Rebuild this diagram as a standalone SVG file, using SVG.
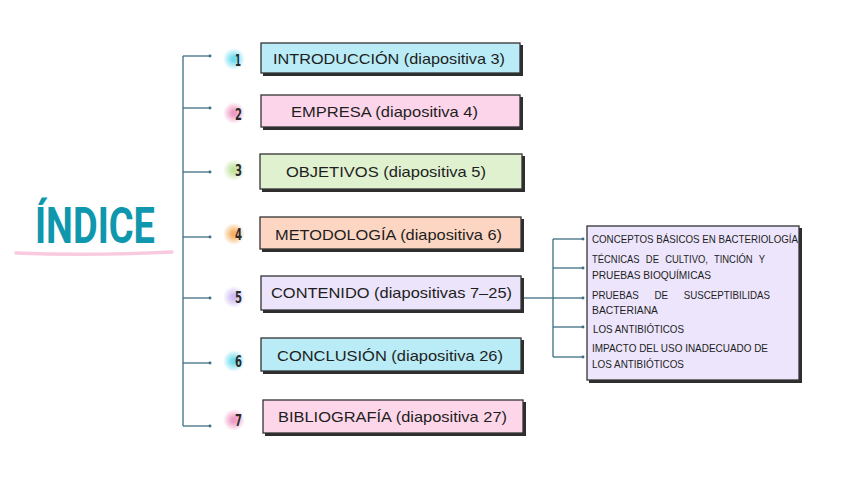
<svg xmlns="http://www.w3.org/2000/svg" width="848" height="477" viewBox="0 0 848 477">
<defs>
<radialGradient id="gc"><stop offset="0.2" stop-color="#6fdcef"/><stop offset="1" stop-color="#6fdcef" stop-opacity="0"/></radialGradient>
<radialGradient id="gp"><stop offset="0.2" stop-color="#ee9cc4"/><stop offset="1" stop-color="#ee9cc4" stop-opacity="0"/></radialGradient>
<radialGradient id="gg"><stop offset="0.2" stop-color="#c2e3a0"/><stop offset="1" stop-color="#c2e3a0" stop-opacity="0"/></radialGradient>
<radialGradient id="go"><stop offset="0.2" stop-color="#f6b063"/><stop offset="1" stop-color="#f6b063" stop-opacity="0"/></radialGradient>
<radialGradient id="gl"><stop offset="0.2" stop-color="#cdbcf4"/><stop offset="1" stop-color="#cdbcf4" stop-opacity="0"/></radialGradient>
<marker id="dot" viewBox="0 0 4 4" refX="2" refY="2" markerWidth="3" markerHeight="3"><circle cx="2" cy="2" r="1.5" fill="#3d6e84"/></marker>
</defs>
<style>
.ln{stroke:#3d6e84;stroke-width:1.3;fill:none}
.sh{fill:#2e2e2e}
.bx{stroke:#333;stroke-width:1.3}
.t{font-family:"Liberation Sans",Arial,sans-serif;font-size:15px;fill:#1e1e1e}
.n{font-family:"DejaVu Sans Condensed","DejaVu Sans",sans-serif;font-weight:bold;font-size:16px;fill:#2a2a2a}
.s{font-family:"Liberation Sans",Arial,sans-serif;font-size:10.5px;fill:#1e1e1e}
</style>
<rect width="848" height="477" fill="#ffffff"/>

<g id="title">
<path d="M16 253 Q90 256 172 252" stroke="#f9c9e0" stroke-width="3.5" fill="none" stroke-linecap="round"/>
<text x="35" y="243" font-family="Roboto,'DejaVu Sans',sans-serif" font-weight="bold" font-size="50" fill="#0e97ad" textLength="120" lengthAdjust="spacingAndGlyphs">ÍNDICE</text>
</g>

<g id="connectors">
<path class="ln" d="M183 56 V426"/>
<path class="ln" marker-end="url(#dot)" d="M183 56 H210"/>
<path class="ln" marker-end="url(#dot)" d="M183 108 H210"/>
<path class="ln" marker-end="url(#dot)" d="M183 172 H210"/>
<path class="ln" marker-end="url(#dot)" d="M183 237 H210"/>
<path class="ln" marker-end="url(#dot)" d="M183 298 H210"/>
<path class="ln" marker-end="url(#dot)" d="M183 363 H210"/>
<path class="ln" marker-end="url(#dot)" d="M183 426 H210"/>
<path class="ln" d="M523 298 H553"/>
<path class="ln" d="M553 239 V357"/>
<path class="ln" marker-end="url(#dot)" d="M553 239 H583"/>
<path class="ln" marker-end="url(#dot)" d="M553 268 H583"/>
<path class="ln" marker-end="url(#dot)" d="M553 298 H583"/>
<path class="ln" marker-end="url(#dot)" d="M553 327 H583"/>
<path class="ln" marker-end="url(#dot)" d="M553 357 H583"/>
</g>

<g id="n1">
<circle cx="234" cy="59" r="11" fill="url(#gc)"/>
<text class="n" x="235" y="66" textLength="6" lengthAdjust="spacingAndGlyphs">1</text>
<rect class="sh" x="263" y="45" width="260" height="31"/>
<rect class="bx" x="261" y="43" width="259" height="30" fill="#b9ecf6"/>
<text class="t" x="273" y="64" textLength="232" lengthAdjust="spacingAndGlyphs">INTRODUCCIÓN (diapositiva 3)</text>
</g>

<g id="n2">
<circle cx="234" cy="113" r="11" fill="url(#gp)"/>
<text class="n" x="235" y="120" textLength="7" lengthAdjust="spacingAndGlyphs">2</text>
<rect class="sh" x="263" y="97" width="260" height="33"/>
<rect class="bx" x="261" y="95" width="259" height="32" fill="#fdd5ea"/>
<text class="t" x="291" y="117" textLength="187" lengthAdjust="spacingAndGlyphs">EMPRESA (diapositiva 4)</text>
</g>

<g id="n3">
<circle cx="234" cy="170" r="11" fill="url(#gg)"/>
<text class="n" x="235" y="176" textLength="7" lengthAdjust="spacingAndGlyphs">3</text>
<rect class="sh" x="262" y="156" width="263" height="36"/>
<rect class="bx" x="260" y="154" width="262" height="35" fill="#e0f1d0"/>
<text class="t" x="286" y="177" textLength="200" lengthAdjust="spacingAndGlyphs">OBJETIVOS (diapositiva 5)</text>
</g>

<g id="n4">
<circle cx="234" cy="234" r="11" fill="url(#go)"/>
<text class="n" x="235" y="240" textLength="7" lengthAdjust="spacingAndGlyphs">4</text>
<rect class="sh" x="262" y="219" width="262" height="33"/>
<rect class="bx" x="260" y="217" width="261" height="32" fill="#fcd6c2"/>
<text class="t" x="275" y="240" textLength="227" lengthAdjust="spacingAndGlyphs">METODOLOGÍA (diapositiva 6)</text>
</g>

<g id="n5">
<circle cx="234" cy="297" r="11" fill="url(#gl)"/>
<text class="n" x="235" y="303" textLength="7" lengthAdjust="spacingAndGlyphs">5</text>
<rect class="sh" x="263" y="278" width="261" height="35"/>
<rect class="bx" x="261" y="276" width="260" height="34" fill="#ece4fb"/>
<text class="t" x="271" y="298" textLength="241" lengthAdjust="spacingAndGlyphs">CONTENIDO (diapositivas 7–25)</text>
</g>

<g id="n6">
<circle cx="234" cy="361" r="11" fill="url(#gc)"/>
<text class="n" x="235" y="367" textLength="7" lengthAdjust="spacingAndGlyphs">6</text>
<rect class="sh" x="263" y="340" width="261" height="34"/>
<rect class="bx" x="261" y="338" width="260" height="33" fill="#b9ecf6"/>
<text class="t" x="277" y="361" textLength="226" lengthAdjust="spacingAndGlyphs">CONCLUSIÓN (diapositiva 26)</text>
</g>

<g id="n7">
<circle cx="234" cy="420" r="11" fill="url(#gp)"/>
<text class="n" x="235" y="426" textLength="7" lengthAdjust="spacingAndGlyphs">7</text>
<rect class="sh" x="265" y="402" width="261" height="34"/>
<rect class="bx" x="263" y="400" width="260" height="33" fill="#fdd7e9"/>
<text class="t" x="278" y="422" textLength="229" lengthAdjust="spacingAndGlyphs">BIBLIOGRAFÍA (diapositiva 27)</text>
</g>

<g id="sub">
<rect class="sh" x="589" y="228" width="213" height="155"/>
<rect class="bx" x="587" y="226" width="212" height="154" fill="#ede5fb"/>
<text class="s" x="592" y="243" textLength="206" lengthAdjust="spacingAndGlyphs">CONCEPTOS BÁSICOS EN BACTERIOLOGÍA</text>
<text class="s" x="592" y="263" word-spacing="4" textLength="173" lengthAdjust="spacingAndGlyphs">TÉCNICAS DE CULTIVO, TINCIÓN Y</text>
<text class="s" x="592" y="279" textLength="119" lengthAdjust="spacingAndGlyphs">PRUEBAS BIOQUÍMICAS</text>
<text class="s" x="592" y="299" word-spacing="14" textLength="178" lengthAdjust="spacingAndGlyphs">PRUEBAS DE SUSCEPTIBILIDAS</text>
<text class="s" x="592" y="314" textLength="66" lengthAdjust="spacingAndGlyphs">BACTERIANA</text>
<text class="s" x="593" y="333" textLength="91" lengthAdjust="spacingAndGlyphs">LOS ANTIBIÓTICOS</text>
<text class="s" x="592" y="352" textLength="176" lengthAdjust="spacingAndGlyphs">IMPACTO DEL USO INADECUADO DE</text>
<text class="s" x="592" y="368" textLength="92" lengthAdjust="spacingAndGlyphs">LOS ANTIBIÓTICOS</text>
</g>
</svg>
